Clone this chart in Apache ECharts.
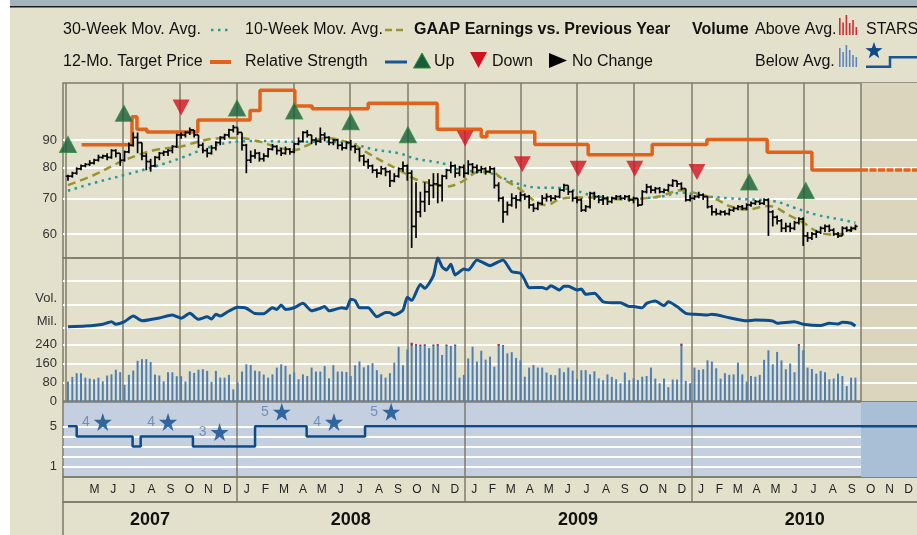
<!DOCTYPE html>
<html><head><meta charset="utf-8">
<script src="https://cdn.jsdelivr.net/npm/echarts@6/dist/echarts.min.js"></script>
<style>html,body{margin:0;padding:0;background:#fff;overflow:hidden}#c{width:917px;height:535px;}</style>
</head><body><div id="c"></div>
<script>
// ---------------- DATA ----------------
const firstWeek = '2007-04-04';
const closes = [77,78,79.5,80.5,81,81.5,82.5,83.5,84,83.5,86,85,82.5,85.5,88,91,89,84,82,80.5,83.5,85,85.5,86,87.5,92,92,93,94,92,88,86,85,87,89,91,92,94,95,93,88,82.5,84,85,83,84,86.5,87.5,86,85,86.5,85.5,88.5,89.5,93,92,90,89.5,92,91,89,90,88,87,89,87.5,86.5,84,82,80.5,79,78,79.5,78.5,75.5,77,79.5,80.5,78,62,66,69,72,74,74.5,74,77,79,80.5,78,80,78,81,80,79,79.5,78.5,79.5,74,70,66,68,70,69.5,71,70.5,68,67,68.5,70,70.5,70,70.5,72.5,74,72,70,69.5,66.5,67.5,71.5,70.5,69.5,70,69,70,70.5,70,70.5,69.5,70,68,72,73.5,72.5,73,72,72.5,74,75.5,74.5,73,69.5,70,70.5,71,70.5,67.5,66,65.5,66,65.5,66.5,67,67.5,67,68,68.5,69,68.5,69.5,66,64.5,63.5,61.5,62,61.5,63,64,59.5,59,60,60.5,61.5,62,61,60,59.5,61.5,61,61.5,62];
const highs = [77.5,78.5,80,81,81.5,82.5,83,84.5,84.5,85,86.5,86.5,85,86,89,93,93,89,85,83,84,85.5,86,86.5,88,92.5,93,93.5,95,94,92,89,87,88,89.5,91.5,92.5,94.5,96,95,93,88.5,86,86.5,85.5,85,87,88.5,88,87,87.5,87,89,91,93.5,94,92,91,95,93,91.5,90.5,90.5,89,89.5,90,88,87,84.5,83,81,79.5,80.5,80,79,78,80,82,81,79,75,72,75,76,78,78,77.5,79.5,82,81,80.5,81,82.5,81.5,81,80.5,80,80.5,80,75,70.5,69,71.5,71,72,71.5,71,68.5,69,71,71.5,71,71,73,74.5,74,72.5,70.5,70,68,72,72,71,71,70.5,70.5,71,71,71,71,70.5,70,72.5,74.5,74,73.5,73.5,73,74.5,76,75.5,75,73,71,71,72,71.5,70.5,68,67,66.5,66.5,67,67.5,68,68,68.5,69,69.5,69.5,70,70,66.5,65,64,63,63,63.5,64.5,64.5,60.5,60.5,61,62,62.5,62.5,61.5,60.5,62,62,62,62.5];
const lows = [75.5,76.5,77.5,79,80,80.5,81,82,83,82.5,83,83.5,80.5,82,85,87.5,85,82.5,79,78.5,80,82.5,84,84,85,87,90.5,91,92,91,87,85,83.5,84.5,86,88,90,91,93,92,86,78,81.5,83,82,82,83.5,86,84.5,84,84.5,84.5,85,88,89,91,88.5,88,89,89.5,88,88,86.5,86,86.5,86,85,82,80.5,79.5,78,76.5,77.5,77,73.5,75,76.5,78.5,75.5,56.5,59,64.5,66,68,70,68.5,69,76,78,76.5,77,76.5,77.5,78,78,78,77.5,78,73,69,63,65,67.5,67,69,69.5,67,66,66.5,68,69,69,69.5,70,72,71,69,68.5,66,66,67,69.5,68.5,68,68,68.5,69.5,69.5,69.5,69,68.5,67.5,68,71.5,71.5,71.5,71.5,71.5,72,73.5,73.5,72.5,69,69,69.5,70,69.5,67,65,65,65,65,65,66,66.5,66.5,66.5,67.5,68,68,68,59.5,62,62.5,60.5,60.5,60.5,61,62.5,57,58,58.5,59,60,60.5,60.5,59.5,59,59.5,60.5,60.5,61];
const volumes = [83,103,119,119,100,96,93,100,84,109,114,134,123,69,112,130,172,179,179,167,113,109,84,123,123,106,106,83,127,120,134,136,129,82,129,100,100,112,50,80,126,157,154,130,127,113,100,114,143,157,150,114,122,93,114,107,143,126,126,150,97,153,126,126,124,107,153,169,144,153,162,132,114,100,119,164,232,153,220,249,243,241,242,226,241,243,197,241,236,241,100,112,182,232,169,215,177,190,147,244,239,204,209,184,174,104,143,154,143,143,122,112,110,140,123,143,130,94,132,132,114,127,97,89,114,103,93,76,122,89,97,90,104,107,143,96,76,96,59,92,92,245,86,76,143,133,136,174,169,140,96,119,112,114,164,114,83,107,104,112,176,217,157,210,174,136,160,123,243,217,143,137,117,129,123,93,96,117,107,64,100,100];
const ma10Weeks  = [0,6,13,20,26,30,35,39,44,48,52,55,59,65,69,73,76,80,84,87,90,95,97,100,104,108,110,113,117,121,125,130,135,137,141,143,149,152,156,161,166,169,172,175,178,181];
const ma10Values = [74.1,77.4,82.5,86.2,87.5,89.4,90.7,90.8,89.4,87.3,86.2,88,90.7,88.7,85,81.5,79.2,75.9,74.5,73.6,74.8,78.6,78.6,76,72.7,68.5,68,69.7,70.2,70.2,69.7,69.8,70.3,71,72.5,72,69.7,67.7,66.7,67.7,64.9,63,60.8,59.9,60,61.8];
const ma30Weeks  = [0,6,13,20,26,33,39,44,52,60,65,70,76,80,84,87,90,97,100,104,108,113,117,121,129,134,137,141,146,152,156,162,167,172,177,181];
const ma30Values = [72.3,74.8,77.4,80.3,83.3,87.5,89.4,89.6,89.3,89.3,88.7,86.5,85,83,82,81,79.2,78,76.4,74.3,73.3,73.2,72.2,70.7,69.7,70.2,70.7,71.7,70.7,70,69.7,69.2,67.2,65.2,64,63];
const rsWeeks  = [0,4,8,10,11,13,15,17,21,24,26,28,30,32,33,34,35,37,39,41,43,45,47,48,49,50,52,54,56,58,59,60,63,64,65,66,67,69,71,73,74,75,77,78,79,81,82,84,85,86,87,88,89,91,92,94,95,97,99,100,102,104,105,106,109,110,111,113,114,115,117,118,119,121,123,125,127,129,130,132,133,135,137,138,140,142,144,147,148,152,156,158,162,163,167,169,173,175,177,178,180,181];
const rsValues = [10.3,10.6,11.4,12.5,11.4,12.5,14.9,12.9,14.1,15.4,14,16.1,13.5,14.6,13.7,15.7,14.9,17.1,18.7,18.3,16,15.9,18.5,17.8,19.7,17.8,18.5,20.4,17.2,18.3,19,17.2,18.5,18.1,22.2,21.6,18.5,18.5,14.6,16.5,16.4,15.4,17.5,23,21.7,28.6,26.9,32.4,40.1,36.2,34.8,37.3,32.7,35.2,34.8,39.1,38.4,36.7,38.4,39.1,34.1,33.4,30.5,27.2,27.3,26.6,28,26.2,27.8,27.8,26.2,26.6,24.3,24.8,21.1,20.7,20.7,19,19,18.5,20.4,21.4,19.4,21.1,19,16.1,15.7,15.4,15.7,14.2,12.9,13.2,12.8,11.8,12.5,11.4,10.8,11.8,11.5,12.2,11.8,10.6];
const targetDates  = ['2007-04-26','2007-07-16','2007-07-24','2007-08-09','2007-10-30','2008-01-22','2008-02-07','2008-04-03','2008-05-01','2008-07-30','2008-11-18','2009-01-28','2009-02-06','2009-04-24','2009-07-19','2009-10-30','2010-01-26','2010-05-03','2010-07-14'];
const targetValues = [88.2,99.5,94.3,93.2,98.1,102.2,111.5,104.2,103,105.5,94.3,91.3,93.2,88.3,84.5,88.3,90.2,85.4,79.1];
const earnDates  = ['2007-04-04','2007-07-03','2007-10-03','2008-01-01','2008-04-02','2008-07-02','2008-10-02','2009-01-02','2009-04-04','2009-07-03','2009-10-02','2010-01-10','2010-04-04','2010-07-04'];
const earnValues = [88.3,101,103.5,103.3,102,97.4,92.1,90.6,81.1,79.5,79.5,78.4,75.1,72.4];
const earnDir    = ['up','up','down','up','up','up','up','down','down','down','down','down','up','up'];
const starsDates  = ['2007-04-04','2007-04-18','2007-07-17','2007-07-30','2007-10-22','2008-01-30','2008-04-22','2008-07-25'];
const starsValues = [5,4,3,4,3,5,4,5];
const starMarkDates  = ['2007-05-30','2007-09-12','2007-12-04','2008-03-13','2008-06-05','2008-09-05'];
const starMarkValues = [4,4,3,5,4,5];
const priceTicks = [60,70,80,90];
const volumeTicks = [0,80,160,240];
const rsGridLevels = [10,20,30];
const starsTicks = [1,5];
const starsGridLevels = [1,2,3,4,5];
const monthLabels = ['','M','J','J','A','S','O','N','D','J','F','M','A','M','J','J','A','S','O','N','D','J','F','M','A','M','J','J','A','S','O','N','D','J','F','M','A','M','J','J','A','S','O','N','D'];
const yearLabels = ['2007','2008','2009','2010'];
const volumeAvgCap = 236;

// ---------------- BUILD ----------------
const DAY = 864e5;
const t = s => Date.parse(s + 'T00:00:00Z');
const T0 = t(firstWeek);
const wk = i => T0 + i * 7 * DAY;
const AX_MIN = t('2007-03-27'), AX_MAX = t('2011-01-01'), SHADE = t('2010-10-01');
const FONT = "'Liberation Sans', Arial, Helvetica, sans-serif";
const GRID_GREY = '#7f7b6c';

const quarterLines = [];
for (let y = 2007; y <= 2010; y++) for (let m = 0; m < 12; m += 3) {
  const v = Date.UTC(y, m, 1); if (v > AX_MIN && v <= SHADE) quarterLines.push(v);
}
const yearLines = [Date.UTC(2008,0,1), Date.UTC(2009,0,1), Date.UTC(2010,0,1)];
const monthCenters = [];
for (let k = 0; k < monthLabels.length; k++) {
  const y = 2007 + Math.floor((3 + k) / 12), m = (3 + k) % 12;
  monthCenters.push((Date.UTC(y, m, 1) + Date.UTC(y, m + 1, 1)) / 2);
}
const yearCenters = yearLabels.map(s => {
  const y = +s; const a = Math.max(Date.UTC(y,0,1), AX_MIN), b = Math.min(Date.UTC(y+1,0,1), AX_MAX);
  return (a + b) / 2;
});

const priceData = closes.map((c, i) => [wk(i), c, highs[i], lows[i], i ? closes[i-1] : c]);
const volData = volumes.map((v, i) => [wk(i), v]);

const gridBase = { left: 63, width: 855.2, containLabel: false, outerBoundsMode: 'none' };
const grids = [
  Object.assign({ top: 83, height: 175, show: true, borderColor: GRID_GREY, borderWidth: 1.5, backgroundColor: 'transparent' }, gridBase),
  Object.assign({ top: 258, height: 143, show: true, borderColor: GRID_GREY, borderWidth: 1.5, backgroundColor: 'transparent' }, gridBase),
  Object.assign({ top: 258, height: 92.6, show: false }, gridBase),
  Object.assign({ top: 402, height: 75, show: true, borderColor: GRID_GREY, borderWidth: 1.5, backgroundColor: '#c4cfe0' }, gridBase),
  Object.assign({ top: 477, height: 25, show: true, borderColor: GRID_GREY, borderWidth: 1.5, backgroundColor: 'transparent' }, gridBase),
  Object.assign({ top: 502, height: 40, show: true, borderColor: GRID_GREY, borderWidth: 1.5, backgroundColor: 'transparent' }, gridBase)
];
const xAxes = grids.map((g, i) => ({ type: 'time', gridIndex: i, min: AX_MIN, max: AX_MAX, show: false }));
const hiddenY = (i, min, max) => ({ type: 'value', gridIndex: i, min, max, show: false, splitLine: { show: false } });
const lblStyle = { color: '#333', fontSize: 13, fontFamily: FONT, margin: 6 };
const yAxes = [
  { type: 'log', logBase: 10, gridIndex: 0, min: 54.1, max: 115.1, show: false, splitLine: { show: false } },
  { type: 'value', gridIndex: 1, min: 0, max: 611.8, interval: 80, axisLine: { show: false }, axisTick: { show: false }, splitLine: { show: false },
    axisLabel: Object.assign({ showMaxLabel: false, formatter: v => volumeTicks.includes(v) ? String(v) : '' }, lblStyle) },
  hiddenY(2, 0, 40),
  { type: 'value', gridIndex: 3, min: 0, max: 7.4, interval: 1, axisLine: { show: false }, axisTick: { show: false }, splitLine: { show: false },
    axisLabel: Object.assign({ showMaxLabel: false, formatter: v => starsTicks.includes(v) ? String(v) : '' }, lblStyle) },
  hiddenY(4, 0, 1),
  hiddenY(5, 0, 1)
];

const helper = (gi, z, extra) => Object.assign({ type: 'line', xAxisIndex: gi, yAxisIndex: gi, data: [], z, silent: true, symbol: 'none' }, extra);
const shade = (gi, color) => helper(gi, 1, { markArea: { z: 1, silent: true, itemStyle: { color }, data: [[{ xAxis: SHADE }, { xAxis: AX_MAX }]] } });
const hLines = (gi, levels, labelOn) => helper(gi, 2, { markLine: { z: 2, silent: true, symbol: ['none','none'], animation: false,
  lineStyle: { color: '#ffffff', width: 2, type: 'solid' },
  label: labelOn ? { show: true, position: 'start', distance: 6, formatter: p => p.value, color: '#333', fontSize: 13, fontFamily: FONT } : { show: false },
  emphasis: { disabled: true }, data: levels.map(v => ({ yAxis: v })) } });
const vLines = (gi, dates) => helper(gi, 3, { markLine: { z: 3, silent: true, symbol: ['none','none'], animation: false,
  lineStyle: { color: GRID_GREY, width: 1.5, type: 'solid' }, label: { show: false }, emphasis: { disabled: true },
  data: dates.map(v => ({ xAxis: v })) } });

const starPath = 'path://M50,0 L61.8,35.1 L98.5,35.1 L68.8,57 L79.4,91.6 L50,70.5 L20.6,91.6 L31.2,57 L1.5,35.1 L38.2,35.1 Z';
const lastTarget = targetValues[targetValues.length - 1];

const series = [
  shade(0, '#dbd5bd'),
  hLines(0, priceTicks, true),
  vLines(0, quarterLines),
  { type: 'line', xAxisIndex: 0, yAxisIndex: 0, z: 4, silent: true, showSymbol: false, smooth: 0.4,
    data: ma30Weeks.map((w, i) => [wk(w), ma30Values[i]]), lineStyle: { color: '#2b9996', width: 2.5, type: [2.5, 4.5] } },
  { type: 'line', xAxisIndex: 0, yAxisIndex: 0, z: 4, silent: true, showSymbol: false, smooth: 0.4,
    data: ma10Weeks.map((w, i) => [wk(w), ma10Values[i]]), lineStyle: { color: '#989530', width: 2.5, type: [8, 5] } },
  { type: 'line', xAxisIndex: 0, yAxisIndex: 0, z: 4, silent: true, showSymbol: false, step: 'end',
    data: targetDates.map((d, i) => [t(d), targetValues[i]]).concat([[SHADE, lastTarget]]), lineStyle: { color: '#e2621b', width: 3.5 } },
  { type: 'line', xAxisIndex: 0, yAxisIndex: 0, z: 4, silent: true, showSymbol: false,
    data: [[SHADE, lastTarget], [AX_MAX, lastTarget]], lineStyle: { color: '#e2621b', width: 3.5, type: [7, 1.5] } },
  { type: 'custom', xAxisIndex: 0, yAxisIndex: 0, z: 5, silent: true, data: priceData,
    renderItem: (params, api) => {
      const x = api.value(0);
      const ph = api.coord([x, api.value(2)]), pl = api.coord([x, api.value(3)]);
      const pc = api.coord([x, api.value(1)]), po = api.coord([x, api.value(4)]);
      const st = { stroke: '#000', lineWidth: 1.7 };
      return { type: 'group', children: [
        { type: 'line', shape: { x1: pc[0], y1: ph[1], x2: pc[0], y2: pl[1] }, style: st },
        { type: 'line', shape: { x1: pc[0] - 2.2, y1: po[1], x2: pc[0], y2: po[1] }, style: st },
        { type: 'line', shape: { x1: pc[0], y1: pc[1], x2: pc[0] + 2.2, y2: pc[1] }, style: st }
      ] };
    } },
  { type: 'scatter', xAxisIndex: 0, yAxisIndex: 0, z: 6, silent: true, symbol: 'triangle', symbolSize: [17, 16],
    itemStyle: { color: '#185d37', borderColor: '#2f8d3e', borderWidth: 1 },
    data: earnDates.map((d, i) => [t(d), earnValues[i]]).filter((p, i) => earnDir[i] === 'up') },
  { type: 'scatter', xAxisIndex: 0, yAxisIndex: 0, z: 6, silent: true, symbol: 'triangle', symbolRotate: 180, symbolSize: [17, 16],
    itemStyle: { color: '#d2111f' },
    data: earnDates.map((d, i) => [t(d), earnValues[i]]).filter((p, i) => earnDir[i] === 'down') },

  shade(1, '#dbd5bd'),
  hLines(1, volumeTicks.filter(v => v > 0), false),
  vLines(1, quarterLines),
  { type: 'custom', xAxisIndex: 1, yAxisIndex: 1, z: 5, silent: true, data: volData,
    renderItem: (params, api) => {
      const x = api.value(0), v = api.value(1);
      const p0 = api.coord([x, 0]), p1 = api.coord([x, v]);
      const w = 2;
      const ch = [{ type: 'rect', shape: { x: p0[0] - w / 2, y: p1[1], width: w, height: p0[1] - p1[1] }, style: { fill: '#4e7eb6' } }];
      if (v > volumeAvgCap) {
        const pc = api.coord([x, volumeAvgCap]);
        ch.push({ type: 'rect', shape: { x: p0[0] - w / 2, y: p1[1], width: w, height: pc[1] - p1[1] }, style: { fill: '#d0202e' } });
      }
      return { type: 'group', children: ch };
    } },

  hLines(2, rsGridLevels, false),
  { type: 'line', xAxisIndex: 2, yAxisIndex: 2, z: 6, silent: true, showSymbol: false, smooth: 0.2,
    data: rsWeeks.map((w, i) => [wk(w), rsValues[i]]), lineStyle: { color: '#0c4d8e', width: 3 } },

  shade(3, '#a9bfd6'),
  helper(3, 2, { markLine: { z: 2, silent: true, symbol: ['none','none'], animation: false, label: { show: false }, emphasis: { disabled: true },
    lineStyle: { color: '#ffffff', width: 2, type: 'solid' },
    data: starsGridLevels.map(v => [{ coord: [AX_MIN, v] }, { coord: [SHADE, v] }]) } }),
  vLines(3, yearLines),
  { type: 'line', xAxisIndex: 3, yAxisIndex: 3, z: 5, silent: true, showSymbol: false, step: 'end',
    data: starsDates.map((d, i) => [t(d), starsValues[i]]).concat([[AX_MAX, starsValues[starsValues.length - 1]]]),
    lineStyle: { color: '#0b4a8b', width: 2.5 } },
  { type: 'scatter', xAxisIndex: 3, yAxisIndex: 3, z: 6, silent: true, symbol: starPath, symbolSize: 18, symbolOffset: [0, -14.5],
    itemStyle: { color: '#0d4a8c' },
    label: { show: true, position: 'left', distance: 4, formatter: p => p.value[1], color: '#5b80b2', fontSize: 14, fontFamily: FONT },
    data: starMarkDates.map((d, i) => [t(d), starMarkValues[i]]) },

  vLines(4, yearLines),
  { type: 'custom', xAxisIndex: 4, yAxisIndex: 4, z: 6, silent: true, data: monthCenters.map((c, i) => [c, 0.5, i]),
    renderItem: (params, api) => {
      const p = api.coord([api.value(0), api.value(1)]);
      return { type: 'text', x: p[0], y: p[1], style: { text: monthLabels[api.value(2)], font: '12px ' + FONT, fill: '#222',
        align: 'center', verticalAlign: 'middle', textAlign: 'center', textVerticalAlign: 'middle' } };
    } },
  { type: 'custom', xAxisIndex: 5, yAxisIndex: 5, z: 6, silent: true, data: yearCenters.map((c, i) => [c, 0.54, i]),
    renderItem: (params, api) => {
      const p = api.coord([api.value(0), api.value(1)]);
      return { type: 'text', x: p[0], y: p[1], style: { text: yearLabels[api.value(2)], font: 'bold 18px ' + FONT, fill: '#111',
        align: 'center', verticalAlign: 'middle', textAlign: 'center', textVerticalAlign: 'middle' } };
    } }
];

// ---------------- LEGEND / DECOR ----------------
const txt = (x, y, s, opt) => ({ type: 'text', x, y, z: 100, silent: true,
  style: Object.assign({ text: s, font: '16px ' + FONT, fill: '#111', verticalAlign: 'middle', textVerticalAlign: 'middle' }, opt || {}) });
const ln = (x1, y1, x2, y2, stroke, lw, dash) => ({ type: 'line', z: 100, silent: true, shape: { x1, y1, x2, y2 },
  style: { stroke, lineWidth: lw, lineDash: dash || null } });
const starPts = (cx, cy, R) => { const pts = []; for (let k = 0; k < 10; k++) { const r = k % 2 ? R * 0.4 : R; const a = -Math.PI / 2 + k * Math.PI / 5; pts.push([cx + r * Math.cos(a), cy + r * Math.sin(a)]); } return pts; };
const bars = (x0, yb, tops, color) => tops.map((ty, k) => ({ type: 'rect', z: 100, silent: true, shape: { x: x0 + k * 3.3, y: ty, width: 1.6, height: yb - ty }, style: { fill: color } }));

const graphics = [
  { type: 'rect', z: 99, silent: true, shape: { x: 0, y: 0, width: 10, height: 535 }, style: { fill: '#ffffff' } },
  { type: 'rect', z: 99, silent: true, shape: { x: 10, y: 0, width: 907, height: 6 }, style: { fill: '#a4b4bf' } },
  ln(10, 6.8, 917, 6.8, '#1c1c1c', 1.5),
  txt(63, 30, '30-Week Mov. Avg.'),
  ln(211, 30, 230, 30, '#2b9996', 2.5, [2.5, 4.5]),
  txt(245, 30, '10-Week Mov. Avg.'),
  ln(385, 30, 406, 30, '#989530', 2.5, [7, 4]),
  txt(414, 30, 'GAAP Earnings vs. Previous Year', { font: 'bold 16px ' + FONT }),
  txt(692, 30, 'Volume', { font: 'bold 16px ' + FONT }),
  txt(755, 30, 'Above Avg.'),
  ...bars(839, 35, [18, 22.5, 15, 23, 20, 27], '#d42a35'),
  txt(866, 30, 'STARS'),
  txt(63, 61.5, '12-Mo. Target Price'),
  ln(210, 62, 231, 62, '#e2621b', 4),
  txt(245, 61.5, 'Relative Strength'),
  ln(385, 62, 407, 62, '#1a5596', 3),
  { type: 'polygon', z: 100, silent: true, shape: { points: [[422, 53], [430.5, 68], [413.5, 68]] }, style: { fill: '#185d37', stroke: '#2f8d3e', lineWidth: 1 } },
  txt(434, 61.5, 'Up'),
  { type: 'polygon', z: 100, silent: true, shape: { points: [[470, 52], [487, 52], [478.5, 68]] }, style: { fill: '#d2111f' } },
  txt(492, 61.5, 'Down'),
  { type: 'polygon', z: 100, silent: true, shape: { points: [[549, 53], [567, 60.5], [549, 68]] }, style: { fill: '#000' } },
  txt(572, 61.5, 'No Change'),
  txt(755, 61.5, 'Below Avg.'),
  ...bars(839, 67, [48, 52, 45, 50, 55, 57], '#5b86bd'),
  { type: 'polygon', z: 100, silent: true, shape: { points: starPts(874, 51, 9) }, style: { fill: '#0d4a8c' } },
  { type: 'polyline', z: 100, silent: true, shape: { points: [[866, 66.7], [890, 66.7], [890, 57.3], [917, 57.3]] }, style: { stroke: '#1a5596', lineWidth: 2.5, fill: null } },
  txt(57, 298, 'Vol.', { font: '13px ' + FONT, fill: '#333', align: 'right', textAlign: 'right' }),
  txt(57, 321, 'Mil.', { font: '13px ' + FONT, fill: '#333', align: 'right', textAlign: 'right' })
];

const chart = echarts.init(document.getElementById('c'), null, { renderer: 'canvas' });
chart.setOption({
  backgroundColor: '#e3e1cb',
  animation: false,
  tooltip: { show: false },
  grid: grids,
  xAxis: xAxes,
  yAxis: yAxes,
  series: series,
  graphic: { elements: graphics }
});
</script></body></html>
